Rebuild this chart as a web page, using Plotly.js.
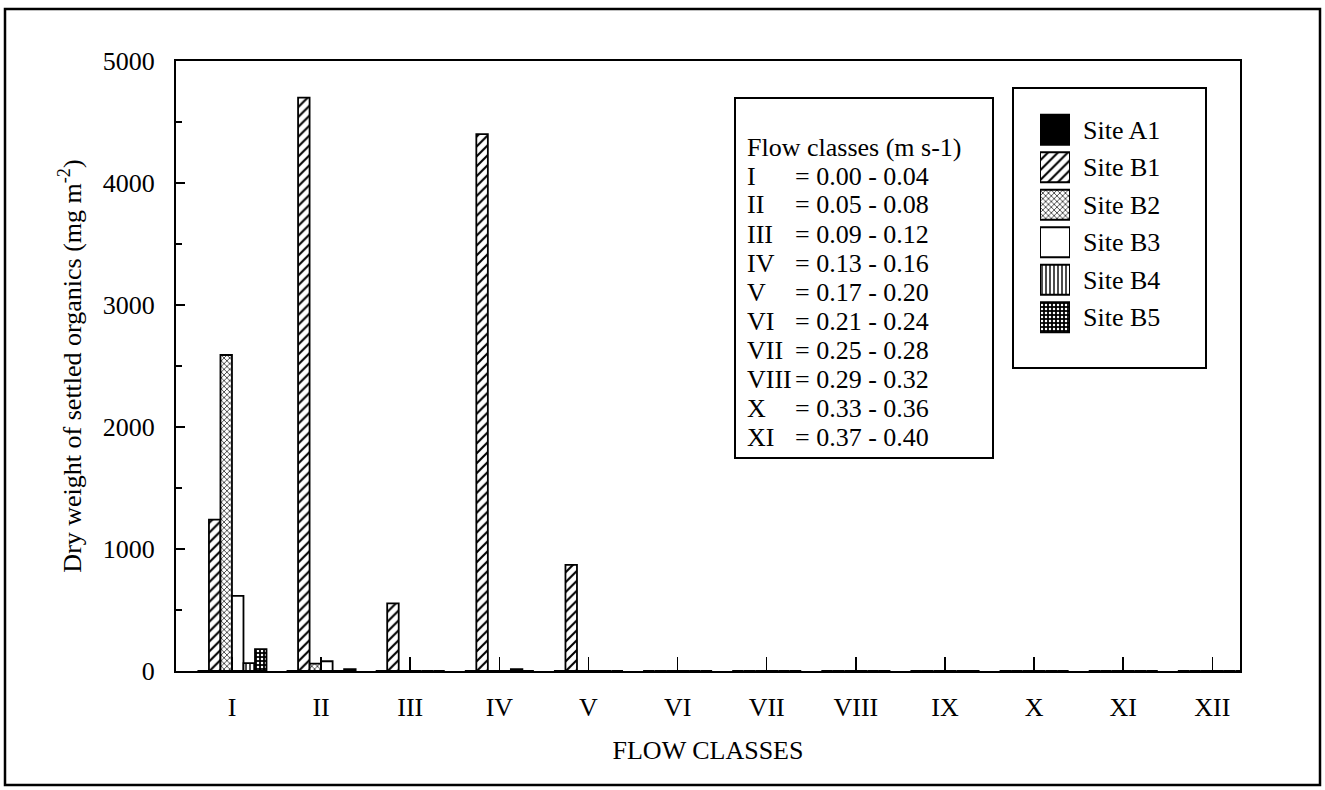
<!DOCTYPE html>
<html>
<head>
<meta charset="utf-8">
<script src="https://cdn.plot.ly/plotly-3.0.1.min.js"></script>
<style>html,body{margin:0;padding:0;background:#fff;}#chart{width:1325px;height:790px;}</style>
</head>
<body>
<div id="chart"></div>
<script>
// ---- data ----
const categories = ["I","II","III","IV","V","VI","VII","VIII","IX","X","XI","XII"];
const siteA1 = [0, 0, 0, 0, 0, 0, 0, 0, 0, 0, 0, 0];
const siteB1 = [1240, 4700, 555, 4400, 870, 0, 0, 0, 0, 0, 0, 0];
const siteB2 = [2590, 60, 0, 0, 0, 0, 0, 0, 0, 0, 0, 0];
const siteB3 = [615, 80, 0, 0, 0, 0, 0, 0, 0, 0, 0, 0];
const siteB4 = [65, 0, 0, 15, 0, 0, 0, 0, 0, 0, 0, 0];
const siteB5 = [180, 15, 0, 0, 0, 0, 0, 0, 0, 0, 0, 0];
const siteNames = ["Site A1","Site B1","Site B2","Site B3","Site B4","Site B5"];
const flowNumerals = ["I","II","III","IV","V","VI","VII","VIII","X","XI"];
const flowRanges = ["= 0.00 - 0.04","= 0.05 - 0.08","= 0.09 - 0.12","= 0.13 - 0.16","= 0.17 - 0.20",
                    "= 0.21 - 0.24","= 0.25 - 0.28","= 0.29 - 0.32","= 0.33 - 0.36","= 0.37 - 0.40"];
const flowHeader = "Flow classes (m s-1)";
const yTitle = "Dry weight of settled organics (mg m<sup>-2</sup>)";
const xTitle = "FLOW CLASSES";

// ---- styling ----
const FONT = "Liberation Serif, Times New Roman, serif";
const FS = 26;
const W = 1325, H = 790;
const L = 176, R = 1240, T = 61, B = 671;
const px2x = p => (p - L) / (R - L);
const px2y = p => (B - p) / (B - T);

const seriesVals = [siteA1, siteB1, siteB2, siteB3, siteB4, siteB5];
const patShape = ["", "/", "x", "", "|", "."];
const patFg = ["black", "black", "#222", "black", "black", "white"];
const patBg = ["black", "white", "white", "white", "white", "black"];
const patSize = [6, 7, 4, 6, 4, 4];
const patSol = [0.3, 0.3, 0.35, 0.3, 0.35, 0.3];
const fills = ["black","white","white","white","white","black"];
const patternOf = i => (patShape[i] ? {shape: patShape[i], fgcolor: patFg[i], bgcolor: patBg[i], size: patSize[i], solidity: patSol[i]} : {shape: ""});

const traces = seriesVals.map((vals, i) => ({
  type: "bar",
  name: siteNames[i],
  x: categories,
  y: vals,
  showlegend: false,
  marker: {color: fills[i], line: {color: "black", width: 1.8}, pattern: patternOf(i)},
  hoverinfo: "skip"
}));

// custom legend: one unit swatch bar per site on its own small axes
siteNames.forEach((name, i) => {
  traces.push({
    type: "bar", orientation: "h",
    x: [1], y: [name], width: 0.8, offset: -0.4,
    xaxis: "x2", yaxis: "y2", showlegend: false, hoverinfo: "skip",
    marker: {color: fills[i], line: {color: "black", width: 2}, pattern: patternOf(i)}
  });
});

const annotations = [];
const rowStart = 147, rowStep = 29;
annotations.push({xref:"paper", yref:"paper", x: px2x(745), y: px2y(rowStart), xanchor:"left", yanchor:"middle",
  text: flowHeader, showarrow:false, font:{family:FONT, size:FS, color:"black"}});
flowNumerals.forEach((n, i) => {
  const yy = px2y(rowStart + (i + 1) * rowStep);
  annotations.push({xref:"paper", yref:"paper", x: px2x(745), y: yy, xanchor:"left", yanchor:"middle",
    text: n, showarrow:false, font:{family:FONT, size:FS, color:"black"}});
  annotations.push({xref:"paper", yref:"paper", x: px2x(793), y: yy, xanchor:"left", yanchor:"middle",
    text: flowRanges[i], showarrow:false, font:{family:FONT, size:FS, color:"black"}});
});

const shapes = [
  // outer frame
  {type:"rect", xref:"paper", yref:"paper", x0: px2x(5), x1: px2x(1320), y0: px2y(785), y1: px2y(9),
   line:{color:"black", width:2.5}, fillcolor:"rgba(0,0,0,0)"},
  // flow class box
  {type:"rect", xref:"paper", yref:"paper", x0: px2x(735), x1: px2x(993), y0: px2y(458), y1: px2y(98),
   line:{color:"black", width:2}, fillcolor:"white", layer:"below"},
  // site legend box
  {type:"rect", xref:"paper", yref:"paper", x0: px2x(1013), x1: px2x(1206), y0: px2y(368), y1: px2y(88),
   line:{color:"black", width:2}, fillcolor:"white", layer:"below"}
];

const layout = {
  width: W, height: H,
  margin: {l: L, r: W - R, t: T, b: H - B, pad: 0},
  paper_bgcolor: "white", plot_bgcolor: "rgba(0,0,0,0)",
  font: {family: FONT, size: FS, color: "black"},
  barmode: "group", bargap: 0.225, bargroupgap: 0,
  showlegend: false,
  xaxis: {
    type: "category", range: [-0.628, 11.31],
    showline: true, linecolor: "black", linewidth: 2, mirror: true,
    ticks: "inside", ticklen: 14, tickwidth: 1.5, tickcolor: "black",
    tickfont: {family: FONT, size: FS}, ticklabelstandoff: 12,
    showgrid: false, zeroline: false,
    title: {text: xTitle, font: {family: FONT, size: FS}, standoff: 20}
  },
  yaxis: {
    range: [0, 5000], tickvals: [0,1000,2000,3000,4000,5000],
    showline: true, linecolor: "black", linewidth: 2, mirror: true,
    ticks: "inside", ticklen: 9, tickwidth: 1.5, tickcolor: "black",
    minor: {dtick: 500, tick0: 0, ticks: "inside", ticklen: 6, tickwidth: 1.2, tickcolor: "black", showgrid:false},
    tickfont: {family: FONT, size: FS}, ticklabelstandoff: 14,
    showgrid: false, zeroline: false,
    title: {text: yTitle, font: {family: FONT, size: FS}, standoff: 14}
  },
  xaxis2: {
    domain: [px2x(1040), px2x(1070)], range: [0, 1], anchor: "y2",
    showline: false, showgrid: false, zeroline: false, showticklabels: false, ticks: "", fixedrange: true
  },
  yaxis2: {
    domain: [px2y(336), px2y(111)], anchor: "x2", type: "category",
    categoryorder: "array", categoryarray: siteNames, autorange: "reversed",
    side: "right", showline: false, showgrid: false, zeroline: false, ticks: "",
    tickfont: {family: FONT, size: FS}, ticklabelstandoff: 12, fixedrange: true
  },
  shapes: shapes,
  annotations: annotations
};

Plotly.newPlot("chart", traces, layout, {displayModeBar: false, staticPlot: true});
</script>
</body>
</html>
